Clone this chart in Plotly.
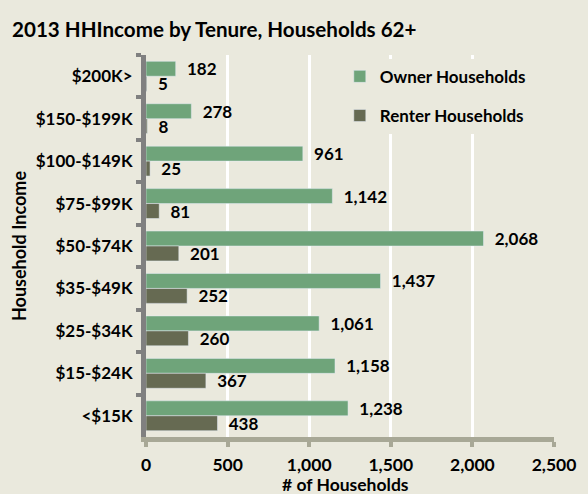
import plotly.graph_objects as go

categories = ["$200K>", "$150-$199K", "$100-$149K", "$75-$99K", "$50-$74K",
              "$35-$49K", "$25-$34K", "$15-$24K", "<$15K"]
owner = [182, 278, 961, 1142, 2068, 1437, 1061, 1158, 1238]
renter = [5, 8, 25, 81, 201, 252, 260, 367, 438]
x_ticks = [0, 500, 1000, 1500, 2000, 2500]
x_tick_labels = ["0", "500", "1,000", "1,500", "2,000", "2,500"]

BG = "#EAE9DD"
FONT = "Lato"
pad = "\u00a0\u00a0"

fig = go.Figure()
fig.add_trace(go.Bar(
    y=categories, x=owner, orientation="h", name="Owner Households",
    marker=dict(color="#6FA47A"),
    text=[pad + f"{v:,}" for v in owner], textposition="outside",
    constraintext="none",
    textfont=dict(family=FONT, size=17, color="black", weight="bold"),
    cliponaxis=False, legendgroup="a",
))
fig.add_trace(go.Bar(
    y=categories, x=renter, orientation="h", name="Renter Households",
    marker=dict(color="#666A52"),
    text=[pad + f"{v:,}" for v in renter], textposition="outside",
    constraintext="none",
    textfont=dict(family=FONT, size=17, color="black", weight="bold"),
    cliponaxis=False, legendgroup="b",
))

fig.update_layout(
    width=588, height=494,
    paper_bgcolor=BG, plot_bgcolor=BG,
    margin=dict(l=146, r=34, t=55, b=57),
    barmode="group", bargap=0.296, bargroupgap=0,
    font=dict(family=FONT, size=17, color="black"),
    title=dict(text="<b>2013 HHIncome by Tenure, Households 62+</b>",
               x=12 / 588, xanchor="left", y=1 - 30 / 494, yanchor="middle",
               font=dict(family=FONT, size=20.6, color="black")),
    showlegend=True,
    legend=dict(x=0.475, y=0.99, xanchor="left", yanchor="top",
                bgcolor=BG, traceorder="grouped", tracegroupgap=14,
                font=dict(family=FONT, size=17, color="black", weight="bold")),
    annotations=[dict(
        text="<b># of Households</b>", xref="paper", yref="paper",
        x=0.49, y=(437 - 484) / 382, xanchor="center", yanchor="middle",
        showarrow=False, font=dict(family=FONT, size=17.5, color="black"),
    )],
)
fig.update_xaxes(
    range=[0, 2500], tickvals=x_ticks, ticktext=x_tick_labels,
    showgrid=True, gridcolor="white", gridwidth=3, zeroline=False,
    showline=True, linecolor="#A8A896", linewidth=5,
    ticks="outside", ticklen=5, tickwidth=4, tickcolor="#A8A896",
    ticklabelstandoff=3, automargin=False,
    tickfont=dict(family=FONT, size=17.5, color="black", weight="bold"),
)
fig.update_yaxes(
    categoryorder="array", categoryarray=categories, autorange="reversed",
    showline=True, linecolor="#808080", linewidth=5,
    ticks="outside", ticklen=5, tickwidth=4, tickcolor="#808080",
    tickson="boundaries", showgrid=False, zeroline=False,
    ticklabelstandoff=5, automargin=False,
    tickfont=dict(family=FONT, size=17, color="black", weight="bold"),
    title=dict(text="<b>Household Income</b>", standoff=6,
               font=dict(family=FONT, size=18, color="black")),
)

fig.write_html("out.html", config={"displayModeBar": False},
               post_script="document.body.style.margin='0px';")
